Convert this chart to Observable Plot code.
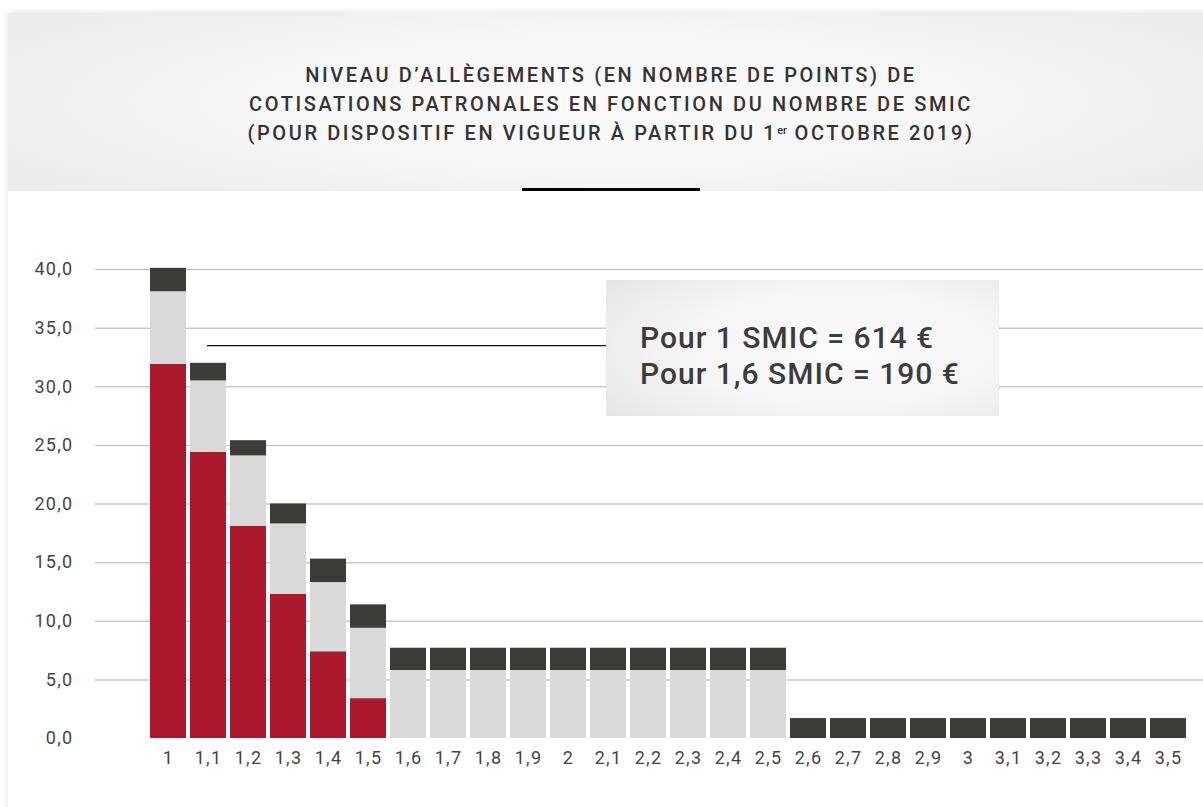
<!DOCTYPE html>
<html>
<head>
<meta charset="utf-8">
<script src="https://cdn.jsdelivr.net/npm/d3@7"></script>
<script src="https://cdn.jsdelivr.net/npm/@observablehq/plot@0.6"></script>
<style>
  html, body { margin: 0; padding: 0; background: #ffffff; }
  #wrap { position: relative; width: 1203px; height: 807px; overflow: hidden; font-family: Roboto, "Noto Sans", sans-serif; }
  #card { position: absolute; left: 8px; top: 13px; width: 1210px; height: 830px; background: #fff;
          box-shadow: 0 0 7px rgba(0,0,0,0.13); }
  #header { position: absolute; left: 8px; top: 13px; width: 1206px; height: 178px;
            background: radial-gradient(ellipse 60% 75% at 50% 50%, #fbfbfb 0%, #f5f5f5 55%, #ebebeb 100%); }
  #title { position: absolute; left: 0; right: 0; top: 48px; text-align: center; font-size: 20px; font-weight: 500;
           line-height: 29px; color: #333; letter-spacing: 2.6px; }
  #title sup { font-size: 0.55em; vertical-align: 0.55em; line-height: 0; letter-spacing: 0; }
  #rule { position: absolute; left: 522px; top: 188px; width: 178px; height: 3px; background: #000; }
  #chart { position: absolute; left: 0; top: 190px; }
  #chart svg text { letter-spacing: 1.3px; }
  #note { position: absolute; left: 606px; top: 280px; width: 393px; height: 136px; box-sizing: border-box;
          padding: 40px 0 0 34px; font-size: 30px; font-weight: 500; line-height: 36px; color: #3c3c3c;
          letter-spacing: 1px; white-space: nowrap;
          background: radial-gradient(ellipse 75% 80% at 60% 50%, #fcfcfc 0%, #f5f5f5 55%, #e6e6e6 100%); }
</style>
</head>
<body>
<div id="wrap">
  <div id="card"></div>
  <div id="header">
    <div id="title">NIVEAU D’ALLÈGEMENTS (EN NOMBRE DE POINTS) DE<br>COTISATIONS PATRONALES EN FONCTION DU NOMBRE DE SMIC<br>(POUR DISPOSITIF EN VIGUEUR À PARTIR DU 1<sup>er</sup> OCTOBRE 2019)</div>
  </div>
  <div id="rule"></div>
  <div id="chart"></div>
  <div id="note">Pour 1 SMIC = 614 €<br>Pour 1,6 SMIC = 190 €</div>
</div>
<script>
// Categories: number of SMIC
const categories = ["1","1,1","1,2","1,3","1,4","1,5","1,6","1,7","1,8","1,9","2","2,1","2,2","2,3","2,4","2,5","2,6","2,7","2,8","2,9","3","3,1","3,2","3,3","3,4","3,5"];
// Stacked series (points), bottom to top
const redValues   = [31.9, 24.4, 18.1, 12.3, 7.4, 3.4, 0,0,0,0,0,0,0,0,0,0, 0,0,0,0,0,0,0,0,0,0];
const lightValues = [6.2, 6.1, 6.0, 6.0, 5.9, 6.0, 5.8,5.8,5.8,5.8,5.8,5.8,5.8,5.8,5.8,5.8, 0,0,0,0,0,0,0,0,0,0];
const darkValues  = [2.0, 1.5, 1.3, 1.7, 2.0, 2.0, 1.9,1.9,1.9,1.9,1.9,1.9,1.9,1.9,1.9,1.9, 1.7,1.7,1.7,1.7,1.7,1.7,1.7,1.7,1.7,1.7];
const seriesNames = ["rouge", "gris clair", "gris foncé"];
const seriesColors = ["#ac182d", "#d9d9d9", "#3c3c3b"];
const yTicks = [0, 5, 10, 15, 20, 25, 30, 35, 40];
const gridTicks = [5, 10, 15, 20, 25, 30, 35, 40];
// Connector line from the bars to the note box
const connectorValue = 33.5;
const connectorFrom = "1,1";
const connectorTo = "2,1";

const rows = [];
categories.forEach((c, i) => {
  rows.push({smic: c, series: seriesNames[0], value: redValues[i]});
  rows.push({smic: c, series: seriesNames[1], value: lightValues[i]});
  rows.push({smic: c, series: seriesNames[2], value: darkValues[i]});
});
const connector = [{y: connectorValue, from: connectorFrom, to: connectorTo}];
const fmt = d => d.toFixed(1).replace(".", ",");

const chart = Plot.plot({
  width: 1203,
  height: 610,
  marginLeft: 148,
  marginRight: 15,
  marginTop: 79,
  marginBottom: 62,
  style: {fontFamily: "Roboto, sans-serif", color: "#444", background: "transparent", overflow: "visible"},
  x: {domain: categories, paddingInner: 0.1, paddingOuter: 0.05},
  y: {domain: [0, 40]},
  color: {domain: seriesNames, range: seriesColors},
  marks: [
    Plot.ruleY(gridTicks, {stroke: "#c9c9c9", strokeWidth: 1.5, insetLeft: -53, insetRight: -15}),
    Plot.barY(rows, {x: "smic", y: "value", fill: "series"}),
    Plot.ruleY(connector, {y: "y", x1: "from", x2: "to", stroke: "#111", strokeWidth: 1.2, insetLeft: 17}),
    Plot.axisY({ticks: yTicks, tickFormat: fmt, tickSize: 0, tickPadding: 75, label: null, fontSize: 18, fill: "#444"}),
    Plot.axisX({tickSize: 0, tickPadding: 13, label: null, fontSize: 18, fill: "#444"})
  ]
});
document.getElementById("chart").appendChild(chart);
</script>
</body>
</html>
